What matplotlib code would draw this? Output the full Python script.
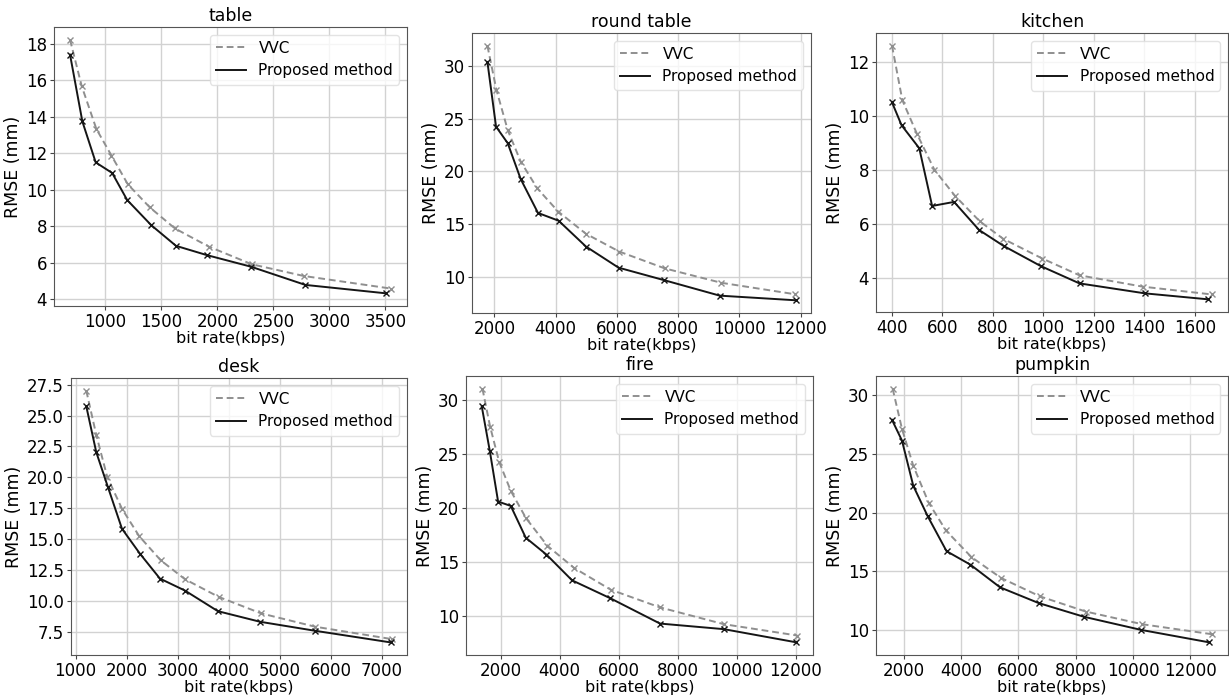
import matplotlib
matplotlib.use("Agg")
import matplotlib.pyplot as plt
from matplotlib.lines import Line2D

titles = ["table", "round table", "kitchen", "desk", "fire", "pumpkin"]

# ---- table ----
table_vvc_x = [684, 788, 919, 1054, 1200, 1397, 1621, 1922, 2307, 2770, 3549]
table_vvc_y = [18.22, 15.68, 13.33, 11.87, 10.30, 9.03, 7.88, 6.89, 5.92, 5.28, 4.59]
table_prop_x = [684, 794, 913, 1060, 1194, 1409, 1630, 1907, 2298, 2785, 3504]
table_prop_y = [17.40, 13.74, 11.50, 10.92, 9.44, 8.06, 6.93, 6.42, 5.79, 4.79, 4.33]

# ---- round table ----
round_vvc_x = [1772, 2065, 2435, 2859, 3402, 4087, 4989, 6076, 7565, 9413, 11826]
round_vvc_y = [31.95, 27.77, 23.94, 20.94, 18.39, 16.18, 14.08, 12.39, 10.79, 9.42, 8.33]
round_prop_x = [1772, 2054, 2435, 2859, 3424, 4098, 4989, 6054, 7532, 9359, 11837]
round_prop_y = [30.41, 24.26, 22.69, 19.28, 16.06, 15.32, 12.87, 10.86, 9.68, 8.20, 7.76]

# ---- kitchen ----
kitchen_vvc_x = [400, 441, 499, 568, 650, 748, 841, 996, 1143, 1393, 1668]
kitchen_vvc_y = [12.62, 10.60, 9.35, 8.02, 7.05, 6.11, 5.46, 4.73, 4.11, 3.69, 3.40]
kitchen_prop_x = [400, 438, 508, 559, 646, 745, 842, 990, 1143, 1403, 1652]
kitchen_prop_y = [10.52, 9.67, 8.82, 6.68, 6.83, 5.79, 5.20, 4.45, 3.81, 3.44, 3.22]

# ---- desk ----
desk_vvc_x = [1209, 1405, 1621, 1909, 2248, 2667, 3144, 3804, 4640, 5700, 7200]
desk_vvc_y = [27.02, 23.43, 20.01, 17.45, 15.22, 13.28, 11.74, 10.31, 8.97, 7.89, 6.89]
desk_prop_x = [1209, 1405, 1634, 1909, 2261, 2654, 3144, 3790, 4620, 5700, 7180]
desk_prop_y = [25.75, 22.03, 19.20, 15.83, 13.81, 11.79, 10.82, 9.15, 8.29, 7.56, 6.62]

# ---- fire ----
fire_vvc_x = [1379, 1638, 1944, 2339, 2859, 3582, 4486, 5729, 7401, 9571, 12057]
fire_vvc_y = [31.09, 27.58, 24.32, 21.62, 19.07, 16.52, 14.47, 12.45, 10.81, 9.25, 8.20]
fire_prop_x = [1356, 1627, 1910, 2339, 2848, 3548, 4418, 5706, 7401, 9571, 12023]
fire_prop_y = [29.44, 25.34, 20.62, 20.22, 17.27, 15.71, 13.32, 11.67, 9.31, 8.79, 7.57]

# ---- pumpkin ----
pumpkin_vvc_x = [1617, 1942, 2336, 2870, 3473, 4366, 5399, 6756, 8345, 10329, 12753]
pumpkin_vvc_y = [30.57, 27.14, 23.99, 20.85, 18.47, 16.19, 14.41, 12.84, 11.55, 10.46, 9.61]
pumpkin_prop_x = [1594, 1942, 2336, 2835, 3496, 4320, 5364, 6710, 8287, 10282, 12649]
pumpkin_prop_y = [27.91, 26.14, 22.28, 19.70, 16.70, 15.56, 13.61, 12.27, 11.10, 9.98, 8.92]

# tick labels
table_xticks = [1000, 1500, 2000, 2500, 3000, 3500]
table_yticks = [4, 6, 8, 10, 12, 14, 16, 18]
round_xticks = [2000, 4000, 6000, 8000, 10000, 12000]
round_yticks = [10, 15, 20, 25, 30]
kitchen_xticks = [400, 600, 800, 1000, 1200, 1400, 1600]
kitchen_yticks = [4, 6, 8, 10, 12]
desk_xticks = [1000, 2000, 3000, 4000, 5000, 6000, 7000]
desk_yticks = [7.5, 10.0, 12.5, 15.0, 17.5, 20.0, 22.5, 25.0, 27.5]
fire_xticks = [2000, 4000, 6000, 8000, 10000, 12000]
fire_yticks = [10, 15, 20, 25, 30]
pumpkin_xticks = [2000, 4000, 6000, 8000, 10000, 12000]
pumpkin_yticks = [10, 15, 20, 25, 30]

panels = [
    (table_vvc_x, table_vvc_y, table_prop_x, table_prop_y, table_xticks, table_yticks, "%d"),
    (round_vvc_x, round_vvc_y, round_prop_x, round_prop_y, round_xticks, round_yticks, "%d"),
    (kitchen_vvc_x, kitchen_vvc_y, kitchen_prop_x, kitchen_prop_y, kitchen_xticks, kitchen_yticks, "%d"),
    (desk_vvc_x, desk_vvc_y, desk_prop_x, desk_prop_y, desk_xticks, desk_yticks, "%.1f"),
    (fire_vvc_x, fire_vvc_y, fire_prop_x, fire_prop_y, fire_xticks, fire_yticks, "%d"),
    (pumpkin_vvc_x, pumpkin_vvc_y, pumpkin_prop_x, pumpkin_prop_y, pumpkin_xticks, pumpkin_yticks, "%d"),
]

# axes rectangles in figure pixels: left, top, right, bottom
W, H = 1229, 696
rects_px = [
    (54, 27, 407, 306),
    (472, 33, 811, 313),
    (876, 33, 1228, 312),
    (71, 378, 407, 655),
    (466, 376, 813, 655),
    (876, 376, 1228, 655),
]

plt.rcParams['font.family'] = ['DejaVu Sans']
plt.rcParams['font.size'] = 12

fig = plt.figure(figsize=(W / 100, H / 100), dpi=100)

VVC_COLOR = '#8f8f8f'
PROP_COLOR = '#151515'

for (vx, vy, px, py, xt, yt, fmt), title, (l, t, r, b) in zip(panels, titles, rects_px):
    ax = fig.add_axes([l / W, (H - b) / H, (r - l) / W, (b - t) / H])
    ax.plot(vx, vy, linestyle=(0, (3.5, 2)), color=VVC_COLOR, marker='x', markersize=5,
            markeredgewidth=1.0, linewidth=1.4)
    ax.plot(px, py, linestyle='-', color=PROP_COLOR, marker='x', markersize=5,
            markeredgewidth=1.0, linewidth=1.4)
    ax.set_xticks(xt)
    ax.set_yticks(yt)
    ax.set_yticklabels([fmt % v for v in yt])
    ax.grid(True, color='#d2d2d2', linewidth=1.0)
    ax.set_axisbelow(True)
    ax.set_title(title, fontsize=12.5, pad=4)
    ax.set_xlabel('bit rate(kbps)', fontsize=11.5, labelpad=0)
    ax.set_ylabel('RMSE (mm)', fontsize=12.5, labelpad=3)
    ax.tick_params(labelsize=12, color='#444444', pad=2, length=3)
    for s in ax.spines.values():
        s.set_color('#555555')
    handles = [Line2D([], [], linestyle=(0, (3.5, 2)), color=VVC_COLOR, linewidth=1.4),
               Line2D([], [], linestyle='-', color=PROP_COLOR, linewidth=1.4)]
    ax.legend(handles, ['VVC', 'Proposed method'], loc='upper right', fontsize=11,
              framealpha=0.8, edgecolor='#dddddd', handlelength=2.0)

fig.savefig('out.png', dpi=100)
